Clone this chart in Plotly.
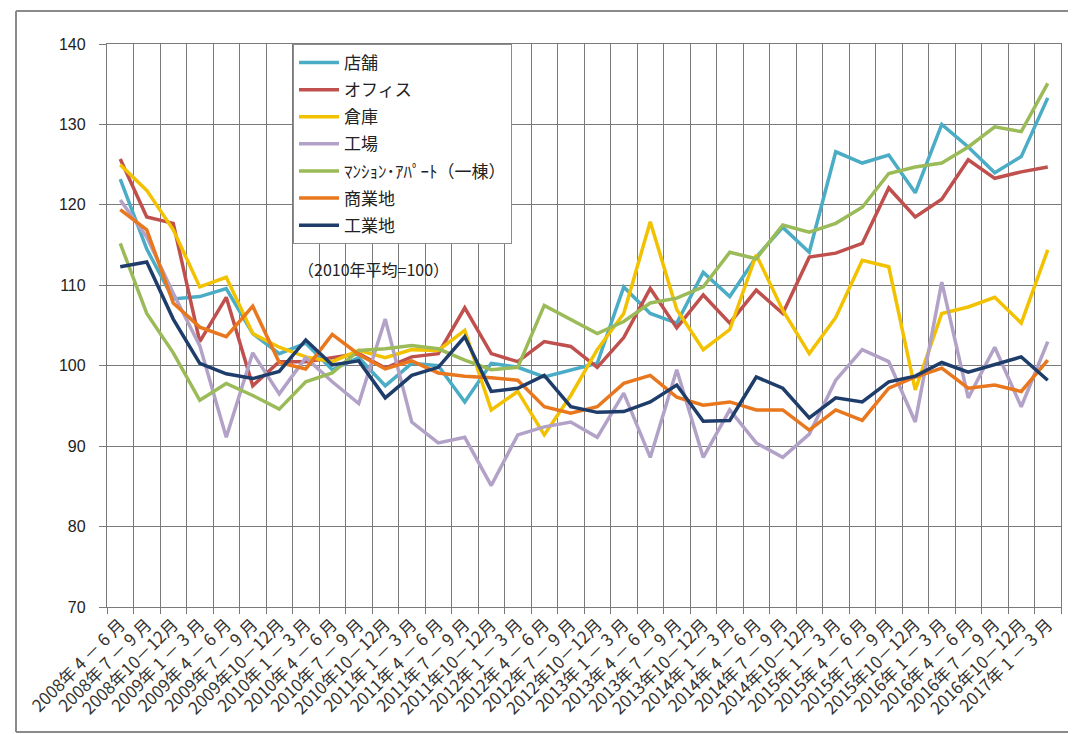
import plotly.graph_objects as go

years_q = [(2008, q) for q in (2, 3, 4)] + [(y, q) for y in range(2009, 2017) for q in (1, 2, 3, 4)] + [(2017, 1)]
qlabel = {1: " 1 － 3 月", 2: " 4 － 6 月", 3: " 7 － 9 月", 4: "10－12月"}
categories = [f"{y}年{qlabel[q]}" for y, q in years_q]

shop = [123.2, 114.5, 108.3, 108.6, 109.6, 104.0, 101.5, 102.8, 99.5, 101.0, 97.5, 100.3,
        100.0, 95.5, 100.3, 99.8, 98.6, 99.4, 100.3, 109.8, 106.5, 105.3, 111.6, 108.6,
        113.5, 117.2, 114.1, 126.6, 125.2, 126.2, 121.5, 130.0, 127.2, 124.0, 126.0, 133.3]
office = [125.7, 118.5, 117.7, 103.0, 108.5, 97.5, 100.5, 100.5, 101.0, 101.5, 99.7, 101.1,
          101.5, 107.2, 101.5, 100.5, 103.0, 102.4, 99.8, 103.5, 109.6, 104.7, 108.8, 105.3,
          109.4, 106.5, 113.5, 114.0, 115.2, 122.1, 118.5, 120.7, 125.6, 123.3, 124.1, 124.7]
warehouse = [125.0, 121.8, 116.9, 109.8, 111.0, 104.0, 102.3, 101.1, 100.5, 101.9, 101.0, 102.0,
             101.9, 104.4, 94.5, 96.8, 91.4, 96.3, 102.0, 106.5, 117.9, 107.0, 102.0, 104.5,
             113.8, 106.9, 101.5, 106.0, 113.1, 112.3, 97.0, 106.5, 107.3, 108.5, 105.3, 114.4]
factory = [120.6, 116.0, 109.0, 102.5, 91.1, 101.6, 96.5, 101.0, 98.0, 95.3, 105.8, 93.0,
           90.4, 91.1, 85.1, 91.4, 92.4, 93.0, 91.1, 96.6, 88.6, 99.5, 88.6, 94.5,
           90.4, 88.6, 91.5, 98.2, 102.0, 100.5, 93.0, 110.4, 96.0, 102.3, 94.9, 103.0]
apartment = [115.2, 106.5, 101.6, 95.7, 97.8, 96.3, 94.6, 98.0, 99.1, 101.9, 102.1, 102.5,
             102.1, 100.7, 99.5, 99.8, 107.5, 105.7, 104.0, 105.5, 107.8, 108.4, 109.8, 114.1,
             113.3, 117.5, 116.6, 117.7, 119.7, 123.9, 124.7, 125.2, 127.2, 129.7, 129.1, 135.1]
commercial = [119.4, 116.9, 107.8, 104.8, 103.6, 107.4, 100.4, 99.6, 103.9, 101.4, 99.6, 100.6,
              99.1, 98.7, 98.5, 98.2, 94.9, 94.1, 94.9, 97.8, 98.8, 96.1, 95.1, 95.5,
              94.5, 94.5, 92.0, 94.5, 93.2, 97.2, 98.6, 99.7, 97.2, 97.6, 96.8, 100.7]
industrial = [112.3, 112.9, 105.8, 100.3, 99.0, 98.4, 99.3, 103.2, 100.1, 100.6, 96.0, 98.8,
              99.8, 103.6, 96.8, 97.2, 98.8, 94.9, 94.2, 94.3, 95.5, 97.6, 93.1, 93.2,
              98.6, 97.2, 93.5, 96.0, 95.5, 98.0, 98.7, 100.4, 99.2, 100.1, 101.1, 98.2]

series_names = ["店舗", "オフィス", "倉庫", "工場", "ﾏﾝｼｮﾝ･ｱﾊﾟｰﾄ（一棟）", "商業地", "工業地"]
series_values = [shop, office, warehouse, factory, apartment, commercial, industrial]
series_colors = ["#4BACC6", "#C0504D", "#F2C200", "#B3A2C7", "#9BBB59", "#E8771E", "#1F3D6B"]

FONT = "Arial, 'Liberation Sans', 'Noto Sans CJK JP', sans-serif"
JFONT = "'Noto Sans CJK JP', Arial, sans-serif"

n = len(categories)
xpos = list(range(n))

fig = go.Figure()
for i, (name, vals, col) in enumerate(zip(series_names, series_values, series_colors)):
    fig.add_trace(go.Scatter(x=xpos, y=vals, name=name, mode="lines",
                             line=dict(color=col, width=3.5), legendgroup=f"g{i}"))

# page body has an 8px margin: figure coordinates = screen coordinates - 8
OFF = 8
W, H = 1076 - OFF, 734 - OFF
L, R, T, B = 107 - OFF, 1061 - OFF, 44 - OFF, 607 - OFF
def px(xs):
    return (xs - OFF - L) / (R - L)
def py(ys):
    return (B - (ys - OFF)) / (B - T)

GRID = "#7a7a7a"
fig.update_layout(
    width=W, height=H,
    margin=dict(l=L, r=W - R, t=T, b=H - B),
    paper_bgcolor="white", plot_bgcolor="white",
    font=dict(family=FONT, color="#222222"),
    showlegend=True,
    legend=dict(x=px(293), y=1, xanchor="left", yanchor="top",
                bgcolor="white", bordercolor="#8c8c8c", borderwidth=1,
                font=dict(family=JFONT, size=17, color="#222222"),
                tracegroupgap=2, itemwidth=40, entrywidth=240),
    xaxis=dict(range=[-0.5, n - 0.5], tickvals=xpos, ticktext=categories,
               showgrid=False, ticks="", showline=True, linecolor=GRID,
               linewidth=1.3, mirror=True, zeroline=False,
               tickangle=-45, tickfont=dict(family=JFONT, size=17, color="#333333"),
               minor=dict(tickvals=[i - 0.5 for i in range(n + 1)], showgrid=True,
                          gridcolor=GRID, gridwidth=1.3, ticks="outside", ticklen=6,
                          tickcolor=GRID)),
    yaxis=dict(range=[70, 140], dtick=10, showgrid=True, gridcolor=GRID,
               gridwidth=1.3, showline=True, linecolor=GRID, linewidth=1.3,
               mirror=True, ticks="outside", ticklen=7, tickcolor=GRID,
               tickfont=dict(family=FONT, size=16, color="#222222"),
               ticklabelstandoff=10, zeroline=False),
)

fig.add_annotation(text="（2010年平均=100）", xref="paper", yref="paper",
                   x=px(296), y=py(269), xanchor="left", yanchor="middle",
                   showarrow=False, font=dict(family=JFONT, size=16, color="#222222"))

# outer chart frame
frame = dict(color="#8a8a8a", width=2)
fig.add_shape(type="line", xref="paper", yref="paper", x0=px(16), x1=px(16), y0=py(732), y1=py(11), line=frame)
fig.add_shape(type="line", xref="paper", yref="paper", x0=px(16), x1=px(1076), y0=py(11), y1=py(11), line=frame)
fig.add_shape(type="line", xref="paper", yref="paper", x0=px(16), x1=px(1076), y0=py(732), y1=py(732), line=frame)

fig.write_html("out.html")
